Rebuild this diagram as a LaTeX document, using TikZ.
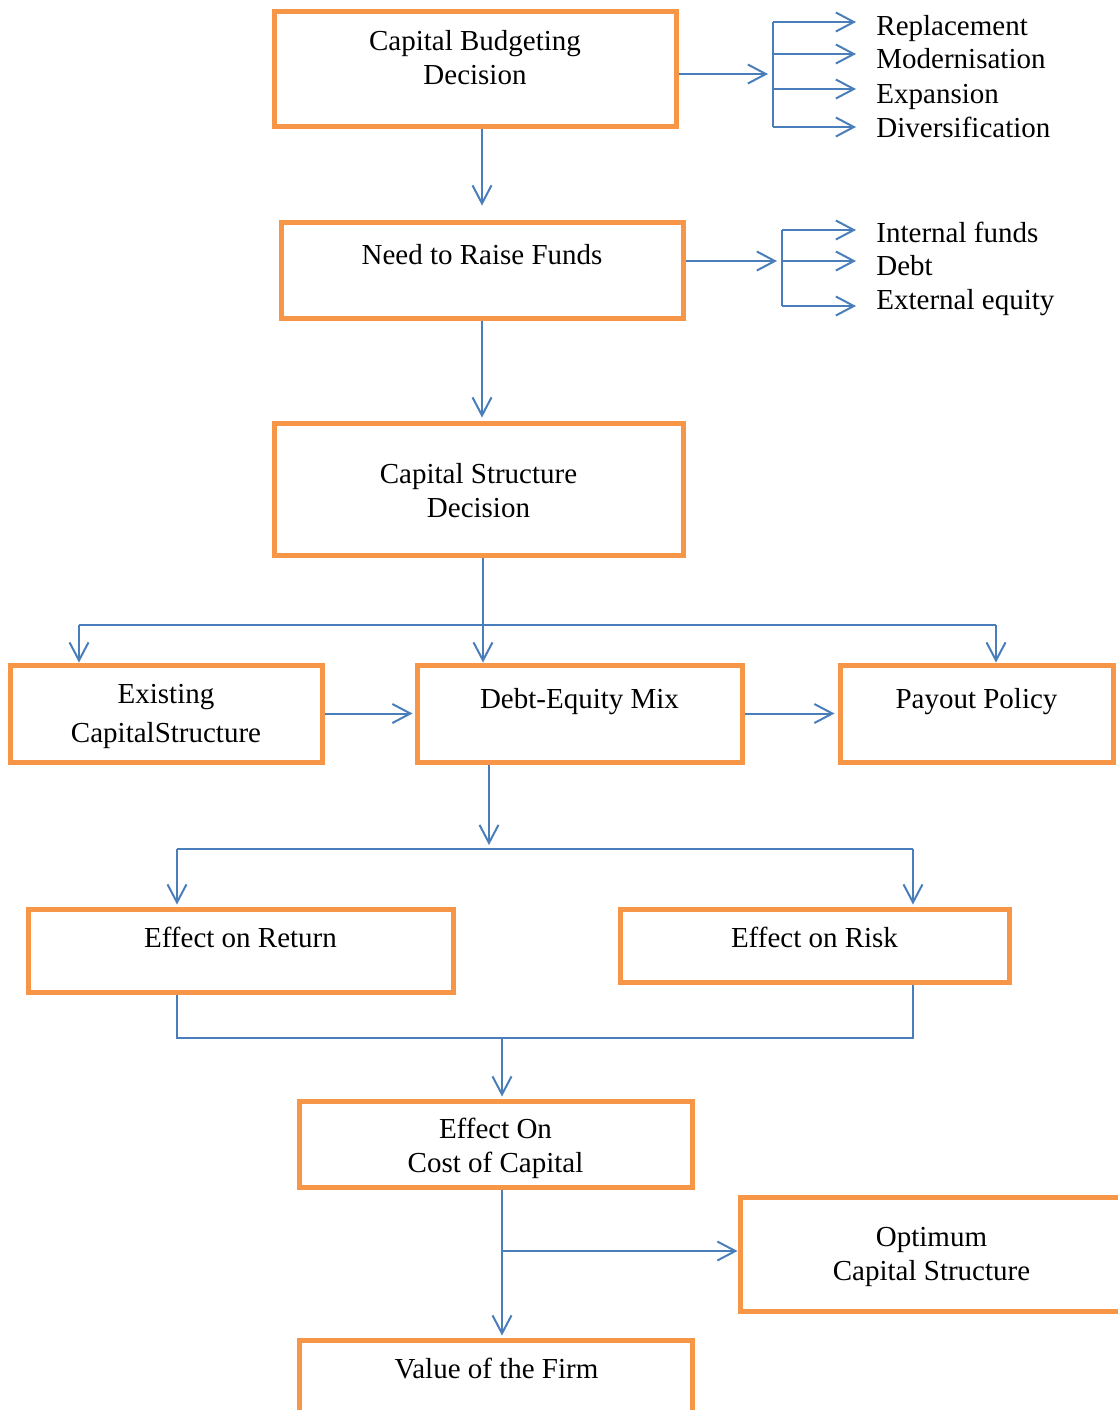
\documentclass[tikz,border=0pt]{standalone}
\usepackage{fontspec}
\setmainfont{Liberation Serif}
\usepackage{tikz}
\usetikzlibrary{arrows.meta, positioning, calc}
\definecolor{boxorange}{HTML}{F79646}
\definecolor{lineblue}{HTML}{4A7EBB}

\tikzset{
    box/.style={draw=boxorange, line width=2.5pt, rectangle, inner sep=0pt},
    txt/.style={align=center, inner sep=0pt, anchor=base, font=\fontsize{14.5}{17}\selectfont},
    item/.style={txt, anchor=base west},
    conn/.style={draw=lineblue, line width=1pt},
    arr/.style={conn, -{Straight Barb[length=9pt, width=9.5pt]}}
}

\begin{document}
\begin{tikzpicture}[x=0.5pt, y=-0.5pt]
    \useasboundingbox (0,0) rectangle (1118,1410);

    % Capital budgeting
    \node[box, minimum width=201pt, minimum height=57.5pt] (cbd) at (475,68.5) {};
    \node[txt] (cbdtext) at (475,84) {Capital Budgeting\\Decision};

    % Raising funds
    \node[box, minimum width=201pt, minimum height=48pt] (nrf) at (482,270) {};
    \node[txt] (nrftext) at (482,264) {Need to Raise Funds};

    % Capital structure decision
    \node[box, minimum width=204.5pt, minimum height=66pt] (csd) at (478.5,489) {};
    \node[txt] (csdtext) at (478.5,517) {Capital Structure\\Decision};

    % Middle row
    \node[box, minimum width=156pt, minimum height=48.5pt] (ecs) at (166,713.5) {};
    \node[txt] (ecstext) at (166,742) {Existing\\[2.5pt]CapitalStructure};
    \node[box, minimum width=162.5pt, minimum height=48.5pt] (dem) at (579.5,713.5) {};
    \node[txt] (demtext) at (579.5,708) {Debt-Equity Mix};
    \node[box, minimum width=136.5pt, minimum height=48.5pt] (pay) at (976.5,713.5) {};
    \node[txt] (paytext) at (976.5,708) {Payout Policy};

    % Effects
    \node[box, minimum width=212.5pt, minimum height=41.5pt] (eor) at (240.5,950.5) {};
    \node[txt] (eortext) at (240.5,947) {Effect on Return};
    \node[box, minimum width=194.5pt, minimum height=36.5pt] (erk) at (814.5,945.5) {};
    \node[txt] (erktext) at (814.5,947) {Effect on Risk};

    % Cost of capital
    \node[box, minimum width=196.5pt, minimum height=43pt] (ecc) at (495.5,1144) {};
    \node[txt] (ecctext) at (495.5,1172) {Effect On\\Cost of Capital};

    % Optimum and value
    \node[box, minimum width=192.5pt, minimum height=57pt] (ocs) at (932.5,1254) {};
    \node[txt] (ocstext) at (931.5,1280) {Optimum\\Capital Structure};
    \node[box, minimum width=196.5pt, minimum height=40pt] (vof) at (495.5,1380) {};
    \node[txt] (voftext) at (496.5,1378) {Value of the Firm};

    % Kinds of projects
    \coordinate (cbfork) at (773,74);
    \coordinate (rep) at (856,22);
    \coordinate (mod) at (856,54);
    \coordinate (exp) at (856,89);
    \coordinate (div) at (856,127);
    \draw[arr] (cbfork -| cbd.east) -- ([xshift=-2.5pt]cbfork);
    \draw[conn] (cbfork |- rep) -- (cbfork |- div);
    \draw[arr] (cbfork |- rep) -- (rep);
    \draw[arr] (cbfork |- mod) -- (mod);
    \draw[arr] (cbfork |- exp) -- (exp);
    \draw[arr] (cbfork |- div) -- (div);
    \node[item] (reptext) at (876,35) {Replacement};
    \node[item] (modtext) at (876,68) {Modernisation};
    \node[item] (exptext) at (876,103) {Expansion};
    \node[item] (divtext) at (876,137) {Diversification};

    % Sources of funds
    \coordinate (nrffork) at (782,261);
    \coordinate (intf) at (856,230);
    \coordinate (debt) at (856,261);
    \coordinate (exte) at (856,306);
    \draw[arr] (nrffork -| nrf.east) -- ([xshift=-2.5pt]nrffork);
    \draw[conn] (nrffork |- intf) -- (nrffork |- exte);
    \draw[arr] (nrffork |- intf) -- (intf);
    \draw[arr] (nrffork) -- (debt);
    \draw[arr] (nrffork |- exte) -- (exte);
    \node[item] (intftext) at (876,242) {Internal funds};
    \node[item] (debttext) at (876,275) {Debt};
    \node[item] (extetext) at (876,309) {External equity};

    % Down the middle
    \draw[arr] (cbd.south -| nrf) -- ([yshift=7pt]nrf.north);
    \draw[arr] (nrf.south) -- ([yshift=1.5pt]nrf.south |- csd.north);

    % Split to the middle row
    \coordinate (split1) at (483,625);
    \coordinate (sl) at (79,625);
    \coordinate (sr) at (996,625);
    \draw[conn] (sl) -- (sr);
    \draw[arr] (csd.south -| split1) -- (split1 |- dem.north);
    \draw[arr] (sl) -- (sl |- ecs.north);
    \draw[arr] (sr) -- (sr |- pay.north);
    \draw[arr] (ecs.east) -- ([xshift=-1pt]dem.west);
    \draw[arr] (dem.east) -- ([xshift=-1.5pt]pay.west);

    % Split to the effects
    \coordinate (split2) at (489,849);
    \coordinate (rl) at (177,849);
    \coordinate (rr) at (913,849);
    \draw[arr] (dem.south -| split2) -- ([yshift=2pt]split2);
    \draw[conn] (rl) -- (rr);
    \draw[arr] (rl) -- ([yshift=1pt]rl |- eor.north);
    \draw[arr] (rr) -- ([yshift=1pt]rr |- erk.north);

    % Join
    \coordinate (jl) at (177,1038);
    \coordinate (jr) at (913,1038);
    \coordinate (join) at (502,1038);
    \draw[conn] (jl |- eor.south) -- (jl) -- (jr) -- (jr |- erk.south);
    \draw[arr] (join) -- ([yshift=1pt]join |- ecc.north);

    % To value and optimum
    \coordinate (fork3) at (502,1251);
    \draw[arr] (ecc.south -| join) -- ([yshift=1pt]join |- vof.north);
    \draw[arr] (fork3) -- (fork3 -| ocs.west);
\end{tikzpicture}
\end{document}
